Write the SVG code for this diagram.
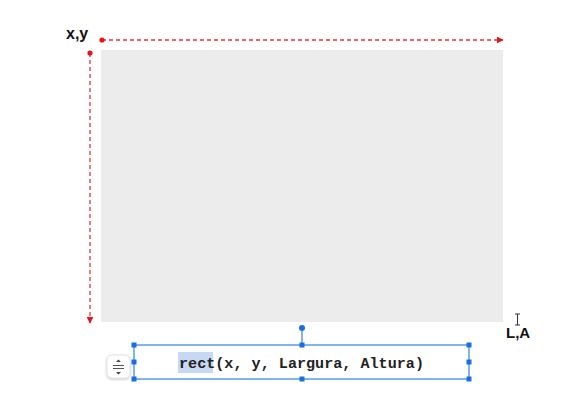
<svg xmlns="http://www.w3.org/2000/svg" width="571" height="402" viewBox="0 0 571 402">
<style>
.lbl{font-family:"Liberation Sans",Arial,sans-serif;font-weight:bold;font-size:16px;fill:#111}
.dash{stroke:#e8333a;stroke-width:1.3;stroke-dasharray:4 3;fill:none}
.sel{stroke:#5b9be6;stroke-width:1.5;fill:none}
.h{fill:#1a6fe0}
.code{font-family:"Liberation Mono","DejaVu Sans Mono",monospace;font-weight:bold;font-size:15.5px;fill:#222}
</style>
<defs>
<marker id="ar" viewBox="0 0 10 10" refX="9" refY="5" markerWidth="7" markerHeight="7" orient="auto" markerUnits="userSpaceOnUse"><path d="M0,0 L10,5 L0,10 z" fill="#e8141c"/></marker>
<filter id="sh" x="-30%" y="-30%" width="160%" height="160%"><feDropShadow dx="0" dy="1" stdDeviation="1.2" flood-color="#000" flood-opacity="0.25"/></filter>
</defs>
<rect width="571" height="402" fill="#fff"/>
<g id="canvas-rect"><rect x="101" y="50" width="402" height="272" fill="#ececec"/></g>
<g id="connectors">
<line class="dash" x1="102" y1="40" x2="503" y2="40" marker-end="url(#ar)"/>
<circle cx="102" cy="40" r="2.6" fill="#e8141c"/>
<line class="dash" x1="90" y1="53" x2="90" y2="323" marker-end="url(#ar)"/>
<circle cx="90" cy="53" r="2.6" fill="#e8141c"/>
</g>
<g id="label-xy"><text class="lbl" x="66" y="39">x,y</text></g>
<g id="label-la"><text class="lbl" x="506" y="338" style="font-size:15px">L,A</text>
<path d="M515,314 h5 M517.5,314 v11 M515,325 h5" stroke="#333" stroke-width="1" fill="none"/></g>
<g id="widget">
<rect x="107" y="355" width="23" height="23" rx="5" fill="#fff" stroke="#e2e2e2" filter="url(#sh)"/>
<path d="M116,362 L118.5,359.5 L121,362 z M116,372 L118.5,374.5 L121,372 z" fill="#444"/>
<line x1="113" y1="365.5" x2="124" y2="365.5" stroke="#555" stroke-width="1"/>
<line x1="113" y1="368.5" x2="124" y2="368.5" stroke="#555" stroke-width="1"/>
</g>
<g id="code-box">
<rect x="178" y="352" width="35" height="21" fill="#c6d8f2"/>
<text class="code" x="179" y="368" textLength="245" lengthAdjust="spacingAndGlyphs">rect(x, y, Largura, Altura)</text>
<line class="sel" x1="302" y1="328" x2="302" y2="345"/>
<rect class="sel" x="134" y="345" width="335" height="34"/>
<circle cx="302" cy="328" r="3" class="h"/>
<rect class="h" x="131.5" y="342.5" width="5" height="5"/>
<rect class="h" x="299.5" y="342.5" width="5" height="5"/>
<rect class="h" x="466.5" y="342.5" width="5" height="5"/>
<rect class="h" x="131.5" y="359.5" width="5" height="5"/>
<rect class="h" x="466.5" y="359.5" width="5" height="5"/>
<rect class="h" x="131.5" y="376.5" width="5" height="5"/>
<rect class="h" x="299.5" y="376.5" width="5" height="5"/>
<rect class="h" x="466.5" y="376.5" width="5" height="5"/>
</g>
</svg>
